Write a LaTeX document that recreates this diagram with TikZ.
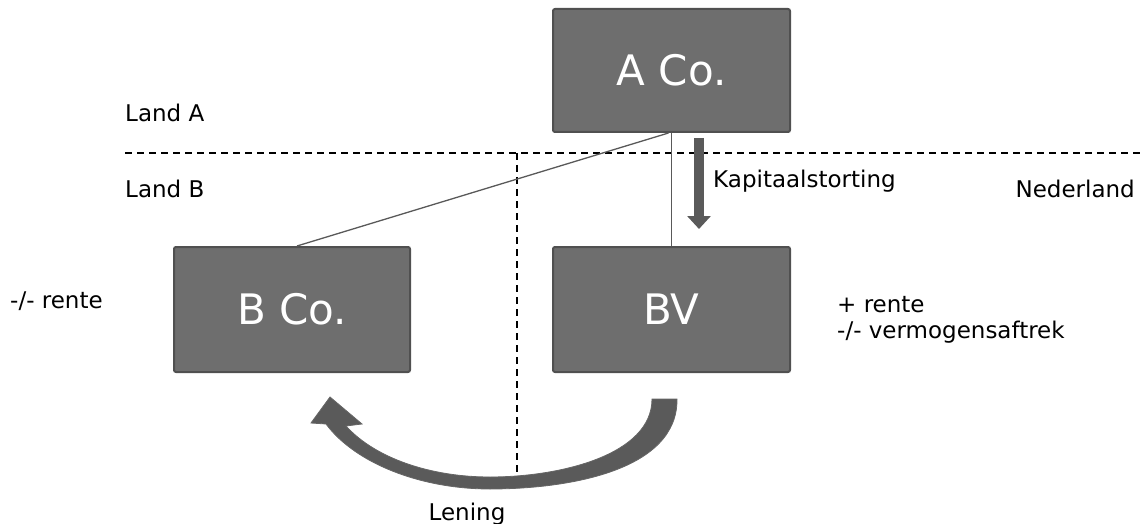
\documentclass[tikz,border=0pt]{standalone}
\usepackage{fontspec}
\setmainfont{DejaVu Sans}
\usetikzlibrary{arrows.meta,calc}
\definecolor{boxfill}{HTML}{6E6E6E}
\definecolor{boxedge}{HTML}{505050}
\definecolor{arrowgray}{HTML}{5A5A5A}
\tikzset{
  company/.style={draw=boxedge, line width=2pt, fill=boxfill, rounded corners=2pt,
    text=white, font=\fontsize{42}{46}\selectfont, inner sep=0pt},
  lbl/.style={inner sep=0pt, font=\fontsize{23}{27}\selectfont, anchor=base west},
  border/.style={line width=2pt, dash pattern=on 7pt off 5pt},
  link/.style={draw=black!65, line width=1.3pt},
}
\begin{document}
\begin{tikzpicture}[x=1pt,y=-1pt]
\useasboundingbox (0,0) rectangle (1141,524);
% borders
\draw[border] (125,153) -- (1141,153);
\coordinate (vtop) at (517,153);
\coordinate (vbot) at (517,472);
\draw[border] (vtop) -- (vbot);
% companies
\node[company, minimum width=237pt, minimum height=123pt] (A) at (671.5,70.5) {A Co.};
\node[company, minimum width=236pt, minimum height=125pt] (B) at (292,309.5) {B Co.};
\node[company, minimum width=237pt, minimum height=125pt] (BV) at (671.5,309.5) {BV};
% links
\draw[link] ($(A.south)+(-3,0)$) -- ($(B.north west)+(124,0)$);
\draw[link] (A.south) -- (BV.north);
% capital contribution arrow
\coordinate (k1) at (699,138);
\coordinate (k2) at (699,229);
\draw[line width=10pt, draw=arrowgray, -{Triangle[width=23pt,length=13pt]}] (k1) -- (k2);
% loan arrow
\fill[arrowgray, draw=black!60, line width=0.8pt]
  (677,399) .. controls (678,470) and (570,489) .. (490,489)
  .. controls (420,489) and (355,463) .. (326,424)
  -- (311,423) -- (330,397) -- (362,424) -- (346,426)
  .. controls (375,458) and (430,477) .. (490,477)
  .. controls (560,477) and (652,455) .. (652,399)
  -- cycle;
% labels
\node[lbl] (landA) at (125,122) {Land A};
\node[lbl] (landB) at (125,197) {Land B};
\node[lbl] (kap) at (713,187) {Kapitaalstorting};
\node[lbl, anchor=base east] (nl) at (1135,197) {Nederland};
\node[lbl] (rente) at (10,308) {-/- rente};
\node[lbl] (plus) at (837,312) {+ rente};
\node[lbl] (verm) at (837,338) {-/- vermogensaftrek};
\node[lbl, anchor=base] (len) at (467,520) {Lening};
\end{tikzpicture}
\end{document}
